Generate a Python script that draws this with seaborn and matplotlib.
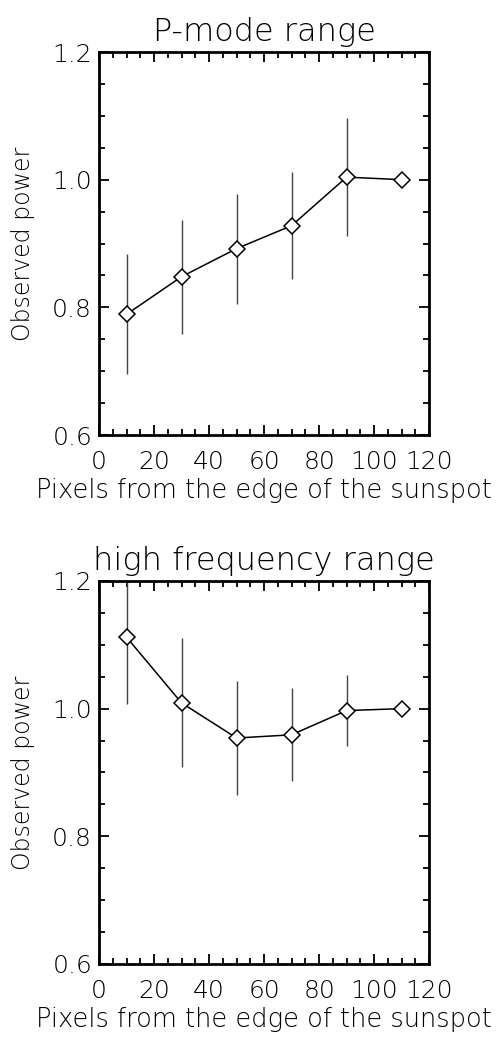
import numpy as np
import pandas as pd
import matplotlib
matplotlib.use('Agg')
import matplotlib.pyplot as plt
import seaborn as sns
from matplotlib.ticker import MultipleLocator

# distance from sunspot edge (pixels)
pixels = [10, 30, 50, 70, 90, 110]

# P-mode range
pmode_power = [0.789, 0.848, 0.892, 0.928, 1.004, 1.000]
pmode_err = [0.094, 0.089, 0.086, 0.084, 0.093, 0.0]

# high frequency range
hf_power = [1.112, 1.009, 0.954, 0.959, 0.997, 1.000]
hf_err = [0.104, 0.101, 0.090, 0.073, 0.056, 0.0]

titles = ['P-mode range', 'high frequency range']

sns.set_style('white')
plt.rcParams['font.family'] = ['DejaVu Sans']
plt.rcParams['font.weight'] = 'light'
plt.rcParams['text.color'] = 'black'
plt.rcParams['axes.labelcolor'] = 'black'
plt.rcParams['axes.titleweight'] = 'light'
plt.rcParams['axes.labelweight'] = 'light'
plt.rcParams['xtick.color'] = 'black'
plt.rcParams['ytick.color'] = 'black'

fig = plt.figure(figsize=(5.01, 10.38), dpi=100)
ax_top = fig.add_axes([0.1976, 0.5809, 0.659, 0.369])
ax_bot = fig.add_axes([0.1976, 0.0713, 0.659, 0.369])

panels = [(ax_top, pmode_power, pmode_err), (ax_bot, hf_power, hf_err)]

for i, (ax, power, err) in enumerate(panels):
    df = pd.DataFrame({'pixels': pixels, 'power': power, 'err': err})
    has_err = df[df['err'] > 0]
    ax.errorbar(has_err['pixels'], has_err['power'], yerr=has_err['err'],
                fmt='none', ecolor='#444444', elinewidth=1.0, capsize=0, zorder=2)
    sns.lineplot(data=df, x='pixels', y='power', ax=ax, color='black',
                 linewidth=1.1, marker='D', markersize=8, markerfacecolor='white',
                 markeredgecolor='black', markeredgewidth=1.1, zorder=3)

    ax.set_xlim(0, 120)
    ax.set_ylim(0.6, 1.2)
    ax.xaxis.set_major_locator(MultipleLocator(20))
    ax.xaxis.set_minor_locator(MultipleLocator(5))
    ax.yaxis.set_minor_locator(MultipleLocator(0.05))
    ax.set_yticks([0.6, 0.8, 1.0, 1.2])
    ax.set_yticklabels(['0.6', '0.8', '1.0', '1.2'])
    ax.tick_params(which='both', direction='in', top=True, right=True,
                   bottom=True, left=True, color='black', width=1.3)
    ax.tick_params(which='major', length=7, labelsize=18)
    ax.tick_params(axis='x', which='major', pad=11)
    ax.tick_params(axis='y', which='major', pad=5)
    ax.tick_params(which='minor', length=4)
    for lbl in ax.get_xticklabels() + ax.get_yticklabels():
        lbl.set_fontweight('light')
    for sp in ax.spines.values():
        sp.set_visible(True)
        sp.set_color('black')
        sp.set_linewidth(2)

    ax.set_title(titles[i], fontsize=23, pad=8, fontweight='light')
    ax.set_xlabel('Pixels from the edge of the sunspot', fontsize=18.5, labelpad=3,
                  fontweight='light')
    ax.set_ylabel('Observed power', fontsize=17, fontweight='light')
    ax.yaxis.set_label_coords(-0.195, 0.5)

fig.savefig('out.png', dpi=100)
